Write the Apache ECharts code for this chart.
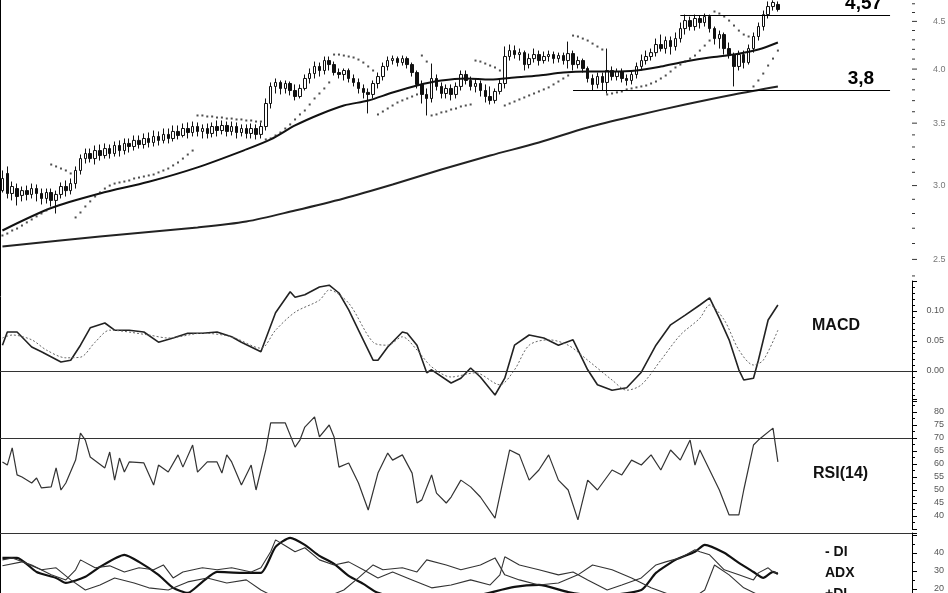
<!DOCTYPE html>
<html><head><meta charset="utf-8">
<script src="https://cdn.jsdelivr.net/npm/echarts@6/dist/echarts.min.js"></script>
<style>html,body{margin:0;padding:0;background:#fff}#c{width:948px;height:593px}</style>
</head><body><div id="c"></div>
<script>
// ---------------- DATA ----------------
const nCats = 187;
const categories = Array.from({length: nCats}, (_, i) => 'd' + (i + 1));

// candles: [open, close, low, high]
const candles = [
[2.963,3.053,2.949,3.114],[3.091,2.942,2.906,3.145],[2.942,2.993,2.892,3.030],[2.978,2.920,2.856,3.015],
[2.928,2.963,2.885,2.993],[2.963,2.935,2.892,3.000],[2.935,2.978,2.906,3.015],[2.978,2.942,2.885,3.008],
[2.942,2.906,2.863,2.978],[2.906,2.949,2.870,2.978],[2.949,2.892,2.849,2.978],[2.892,2.935,2.800,2.963],
[2.935,2.993,2.906,3.023],[2.993,2.963,2.920,3.038],[2.963,3.015,2.935,3.053],[3.015,3.114,2.978,3.145],
[3.114,3.207,3.083,3.239],[3.207,3.247,3.168,3.287],[3.247,3.207,3.176,3.287],[3.207,3.271,3.160,3.312],
[3.271,3.231,3.191,3.320],[3.231,3.287,3.207,3.329],[3.287,3.247,3.207,3.320],[3.247,3.312,3.223,3.345],
[3.312,3.271,3.223,3.354],[3.271,3.329,3.239,3.370],[3.329,3.304,3.255,3.370],[3.304,3.354,3.271,3.395],
[3.354,3.320,3.287,3.395],[3.320,3.370,3.287,3.412],[3.370,3.337,3.296,3.420],[3.337,3.387,3.304,3.437],
[3.387,3.354,3.312,3.429],[3.354,3.404,3.329,3.454],[3.404,3.370,3.329,3.454],[3.370,3.429,3.345,3.480],
[3.429,3.395,3.362,3.480],[3.395,3.454,3.379,3.497],[3.454,3.420,3.370,3.506],[3.420,3.471,3.387,3.514],
[3.471,3.429,3.387,3.506],[3.429,3.454,3.370,3.489],[3.454,3.412,3.370,3.497],[3.412,3.471,3.379,3.506],
[3.471,3.437,3.387,3.523],[3.437,3.480,3.404,3.523],[3.480,3.429,3.387,3.514],[3.429,3.471,3.395,3.514],
[3.471,3.420,3.370,3.506],[3.420,3.454,3.387,3.489],[3.454,3.412,3.370,3.489],[3.412,3.454,3.370,3.497],
[3.454,3.404,3.362,3.489],[3.404,3.471,3.370,3.506],[3.471,3.674,3.437,3.720],[3.674,3.832,3.629,3.870],
[3.832,3.870,3.766,3.908],[3.870,3.813,3.757,3.889],[3.813,3.860,3.766,3.889],[3.860,3.794,3.748,3.879],
[3.794,3.738,3.702,3.851],[3.738,3.813,3.720,3.851],[3.813,3.908,3.794,3.947],[3.908,3.956,3.860,4.006],
[3.956,4.026,3.908,4.075],[4.026,3.986,3.927,4.065],[3.986,4.085,3.947,4.126],[4.085,4.045,3.986,4.126],
[4.045,3.966,3.937,4.075],[3.966,3.947,3.908,4.006],[3.947,3.986,3.889,4.006],[3.986,3.908,3.870,4.006],
[3.908,3.870,3.832,3.947],[3.870,3.813,3.766,3.908],[3.813,3.776,3.720,3.851],[3.776,3.757,3.585,3.813],
[3.757,3.860,3.720,3.889],[3.860,3.927,3.813,3.966],[3.927,4.026,3.889,4.065],[4.026,4.085,3.986,4.126],
[4.085,4.105,4.045,4.136],[4.105,4.065,4.026,4.126],[4.065,4.105,4.035,4.136],[4.105,4.045,4.006,4.126],
[4.045,3.966,3.927,4.065],[3.966,3.851,3.813,3.986],[3.851,3.757,3.674,3.889],[3.757,3.720,3.567,3.813],
[3.720,3.908,3.683,4.055],[3.908,3.832,3.794,3.947],[3.832,3.766,3.720,3.870],[3.766,3.813,3.720,3.851],
[3.813,3.757,3.702,3.851],[3.757,3.832,3.720,3.870],[3.832,3.947,3.794,3.986],[3.947,3.889,3.851,3.986],
[3.889,3.832,3.794,3.927],[3.832,3.860,3.776,3.908],[3.860,3.794,3.738,3.889],[3.794,3.738,3.683,3.851],
[3.738,3.702,3.665,3.832],[3.702,3.785,3.674,3.813],[3.785,3.860,3.757,3.908],[3.860,4.126,3.813,4.230],
[4.126,4.187,4.085,4.250],[4.187,4.146,4.105,4.240],[4.146,4.166,4.085,4.208],[4.166,4.045,3.986,4.187],
[4.045,4.105,4.006,4.156],[4.105,4.146,4.065,4.208],[4.146,4.085,4.035,4.187],[4.085,4.126,4.055,4.177],
[4.126,4.146,4.075,4.187],[4.146,4.105,4.055,4.177],[4.105,4.136,4.065,4.166],[4.136,4.085,4.045,4.166],
[4.085,4.156,4.006,4.281],[4.156,4.045,3.986,4.187],[4.045,4.085,4.006,4.126],[4.085,4.006,3.966,4.105],
[4.006,3.908,3.870,4.026],[3.908,3.851,3.794,3.947],[3.851,3.927,3.813,3.966],[3.927,3.870,3.794,3.966],
[3.870,3.986,3.766,4.208],[3.986,3.927,3.889,4.026],[3.927,3.976,3.889,4.006],[3.976,3.908,3.870,4.006],
[3.908,3.889,3.841,3.947],[3.889,3.947,3.851,3.986],[3.947,4.026,3.908,4.065],[4.026,4.085,3.986,4.146],
[4.085,4.126,4.045,4.187],[4.126,4.166,4.085,4.208],[4.166,4.250,4.126,4.313],[4.250,4.208,4.177,4.356],
[4.208,4.292,4.156,4.335],[4.292,4.229,4.146,4.335],[4.229,4.313,4.187,4.378],[4.313,4.421,4.271,4.487],
[4.421,4.509,4.356,4.576],[4.509,4.443,4.399,4.554],[4.443,4.532,4.399,4.576],[4.532,4.487,4.421,4.565],
[4.487,4.554,4.443,4.588],[4.554,4.421,4.378,4.576],[4.421,4.313,4.250,4.443],[4.313,4.356,4.208,4.399],
[4.356,4.208,4.146,4.378],[4.208,4.146,4.105,4.271],[4.146,4.026,3.832,4.166],[4.026,4.146,3.986,4.187],
[4.146,4.065,4.006,4.187],[4.065,4.208,4.045,4.250],[4.208,4.335,4.166,4.378],[4.335,4.443,4.292,4.487],
[4.443,4.576,4.399,4.622],[4.576,4.668,4.532,4.727],[4.668,4.715,4.622,4.740],[4.692,4.634,4.610,4.727]
];

// parabolic SAR, one value per candle
const sar = [
2.652,2.665,2.685,2.698,2.718,2.739,2.759,2.780,2.800,2.821,
3.160,3.145,3.129,3.114,3.091,
2.773,2.807,2.849,2.885,2.920,2.949,2.978,3.000,
3.015,3.023,3.030,3.038,3.053,3.060,3.068,3.076,3.083,3.099,3.114,3.129,3.153,3.176,3.207,3.239,3.271,
3.567,3.567,3.558,3.558,3.549,3.549,3.540,3.540,3.532,3.532,3.523,3.523,3.514,3.514,
3.362,3.370,3.395,3.420,3.454,3.489,3.532,3.576,3.611,3.665,3.720,3.766,3.813,3.870,
4.146,4.146,4.136,4.126,4.116,4.095,4.065,4.026,3.986,
3.576,3.602,3.629,3.656,3.683,3.702,3.720,3.738,3.757,
4.136,4.075,
3.567,3.576,3.594,3.602,3.620,3.629,3.647,3.656,3.665,
4.085,4.075,4.055,4.035,4.016,3.986,
3.656,3.674,3.692,3.711,3.729,3.748,3.766,3.785,3.804,3.823,3.851,3.879,3.908,3.937,
4.345,4.335,4.313,4.292,4.260,4.229,4.198,
3.757,3.766,3.776,3.785,3.804,3.813,3.823,3.832,3.841,3.860,3.879,3.908,3.937,3.976,4.016,4.045,4.075,4.105,4.136,4.187,4.239,4.292,
4.611,4.588,4.554,4.509,4.454,4.399,4.356,4.335,
3.832,3.889,3.956,4.035,4.105,4.187
];

// moving averages [candle index, price]
const maShort = [[0,2.685],[10,2.838],[20,2.942],[30,3.028],[40,3.138],[50,3.280],[55,3.362],[60,3.480],[65,3.576],[70,3.656],[75,3.701],[80,3.775],[85,3.841],[90,3.888],[95,3.908],[100,3.898],[105,3.917],[110,3.937],[115,3.966],[120,3.976],[125,3.976],[130,3.986],[135,4.025],[140,4.075],[145,4.116],[150,4.146],[155,4.198],[159,4.271]];
const maLong = [[0,2.581],[20,2.645],[40,2.705],[50,2.745],[60,2.821],[70,2.906],[80,3.008],[90,3.121],[100,3.231],[110,3.337],[120,3.463],[130,3.567],[140,3.665],[150,3.757],[159,3.832]];

// support / resistance levels
const levelHigh = {label: '4,57', value: 4.57, from: 139, to: 182};
const levelLow = {label: '3,8', value: 3.8, from: 117, to: 182};

// MACD and signal [index, value]
const macd = [[0,0.043],[1,0.065],[3,0.065],[6,0.040],[8,0.032],[12,0.015],[14,0.018],[16,0.043],[18,0.072],[21,0.080],[23,0.068],[26,0.068],[29,0.065],[32,0.048],[35,0.055],[38,0.063],[41,0.063],[44,0.065],[47,0.057],[49,0.048],[53,0.032],[56,0.097],[59,0.132],[60,0.123],[62,0.127],[65,0.140],[67,0.143],[69,0.130],[71,0.102],[73,0.068],[76,0.018],[77,0.018],[79,0.040],[82,0.065],[83,0.063],[85,0.043],[87,-0.003],[88,0.002],[92,-0.020],[94,-0.012],[96,0.005],[98,-0.010],[101,-0.040],[103,-0.012],[105,0.043],[108,0.060],[111,0.055],[114,0.043],[117,0.052],[120,0.002],[122,-0.023],[125,-0.032],[128,-0.028],[131,-0.002],[134,0.043],[137,0.077],[140,0.093],[143,0.110],[145,0.122],[147,0.088],[149,0.052],[151,0.002],[152,-0.015],[154,-0.012],[155,0.018],[157,0.085],[159,0.110]];
const signal = [[0,0.055],[2,0.060],[6,0.052],[9,0.035],[13,0.022],[16,0.023],[19,0.048],[22,0.068],[30,0.060],[34,0.055],[41,0.063],[47,0.057],[53,0.038],[56,0.068],[60,0.098],[65,0.118],[67,0.135],[71,0.113],[76,0.048],[79,0.043],[82,0.057],[85,0.035],[88,0.007],[92,-0.010],[97,-0.003],[102,-0.023],[105,0.002],[108,0.043],[112,0.052],[116,0.043],[120,0.018],[125,-0.015],[128,-0.032],[131,-0.023],[135,0.018],[139,0.060],[143,0.088],[145,0.110],[148,0.085],[151,0.035],[154,0.010],[156,0.018],[159,0.068]];

// RSI(14) [index, value]
const rsi = [[0,60.8],[1,59.6],[2,66.2],[3,55.8],[4,55.0],[6,52.7],[7,54.6],[8,50.8],[10,51.2],[11,58.5],[12,50.0],[13,52.7],[15,61.5],[16,71.9],[17,69.2],[18,62.7],[21,58.5],[22,64.6],[23,53.8],[24,62.3],[25,56.9],[26,60.8],[29,60.4],[31,51.9],[32,59.6],[34,56.9],[36,63.5],[37,58.8],[39,67.3],[40,56.9],[42,60.8],[44,60.8],[45,56.5],[46,63.5],[47,60.8],[49,51.9],[51,59.6],[52,50.0],[54,65.4],[55,75.8],[58,75.8],[60,66.5],[61,69.2],[62,74.2],[64,78.1],[65,70.4],[67,75.0],[68,70.4],[69,58.8],[71,60.4],[73,52.7],[75,42.3],[77,56.5],[79,64.2],[80,61.5],[82,63.5],[84,56.5],[85,45.0],[86,46.2],[88,55.8],[89,48.8],[91,45.0],[92,47.3],[94,53.8],[96,51.2],[98,47.3],[101,39.2],[104,65.4],[106,63.5],[108,53.8],[110,57.7],[112,63.5],[114,53.8],[116,50.0],[118,38.5],[120,53.8],[122,50.0],[125,57.7],[127,55.8],[129,61.5],[131,59.6],[133,63.5],[135,57.7],[137,65.4],[139,61.5],[141,69.2],[142,59.6],[143,65.4],[145,57.7],[147,50.0],[149,40.4],[151,40.4],[152,50.0],[154,67.3],[155,69.2],[158,73.8],[159,60.8]];

// DMI [index, value]
const adx = [[0,37.2],[3,37.2],[7,29.4],[11,26.1],[13,23.3],[17,26.7],[20,32.2],[25,38.9],[28,35.0],[32,27.8],[35,20.6],[38,17.8],[41,23.9],[44,29.4],[49,28.9],[53,28.9],[56,43.3],[59,48.3],[62,44.4],[65,38.3],[68,33.9],[71,27.2],[74,22.8],[77,17.8],[82,15.0],[92,13.9],[98,16.7],[105,21.1],[110,22.2],[116,18.3],[122,16.1],[131,19.4],[134,28.9],[138,36.1],[142,40.6],[144,44.4],[148,40.0],[151,34.4],[154,29.4],[156,26.1],[158,29.4],[159,28.3]];
const plusDI = [[0,36.1],[2,37.2],[6,33.3],[10,27.8],[13,25.0],[15,30.6],[16,36.1],[19,31.7],[22,32.8],[25,29.4],[28,31.7],[31,30.6],[33,33.3],[35,26.1],[37,29.4],[41,31.7],[44,30.6],[47,31.7],[51,29.4],[53,31.7],[55,40.6],[56,47.2],[58,43.9],[60,40.6],[62,42.8],[65,36.1],[68,33.3],[71,35.0],[74,30.6],[77,26.1],[80,29.4],[84,25.0],[88,20.6],[92,22.2],[96,25.0],[100,22.2],[102,27.8],[103,37.8],[106,33.3],[110,30.6],[114,27.8],[117,29.4],[120,25.0],[124,19.4],[127,22.2],[131,26.1],[134,33.3],[136,35.0],[139,37.2],[142,41.7],[143,40.6],[145,38.9],[148,30.6],[151,27.8],[154,25.0],[155,28.9],[157,31.7],[158,29.4],[159,28.9]];
const minusDI = [[0,32.8],[4,35.0],[8,30.6],[11,31.7],[14,25.0],[17,19.4],[20,22.2],[23,26.1],[27,23.3],[30,20.6],[34,19.4],[38,23.9],[42,26.1],[46,23.3],[50,25.0],[53,19.4],[57,13.9],[65,13.9],[70,19.4],[73,26.1],[76,33.3],[78,30.6],[82,31.7],[85,29.4],[87,36.1],[91,33.3],[94,30.6],[98,33.3],[101,37.2],[103,27.8],[106,25.0],[110,22.2],[114,23.3],[118,27.8],[121,33.3],[125,30.6],[129,26.1],[133,20.6],[137,16.7],[141,13.9],[144,19.4],[146,33.3],[149,27.8],[152,20.6],[155,16.7],[159,15.0]];

// axis tick labels / tick values
const priceLabels = ['2.5','3.0','3.5','4.0','4.5'];
const priceMinorTicks = [2.4,2.6,2.7,2.8,2.9,3.1,3.2,3.3,3.4,3.6,3.7,3.8,3.9,4.1,4.2,4.3,4.4,4.6,4.7];
const macdLabels = ['0.00','0.05','0.10'];
const rsiLabels = [40,45,50,55,60,65,70,75,80];
const dmiLabels = [20,30,40];

// ---------------- CHART ----------------
const chart = echarts.init(document.getElementById('c'), null, {renderer: 'canvas'});
const AX = '#000';
const FONT = 'Liberation Sans, Arial, sans-serif';
const LBL = {color: '#555', fontSize: 9, fontFamily: FONT};
const G = {left: 0, right: 36, containLabel: false, outerBoundsMode: 'none'};

function catAxis(gi) {
  return {type: 'category', gridIndex: gi, data: categories, boundaryGap: true, show: false};
}
function valAxis(gi, o) {
  return Object.assign({
    type: 'value', gridIndex: gi, position: 'right', scale: false,
    axisLine: {show: true, lineStyle: {color: AX, width: 1}},
    axisTick: {show: true, inside: false, length: 5, lineStyle: {color: AX}},
    splitLine: {show: false}, minorSplitLine: {show: false}
  }, o);
}
function minor(n) { return {show: true, splitNumber: n, length: 3, lineStyle: {color: AX}}; }
const levelLabel = {show: true, position: 'insideEndTop', formatter: '{b}', color: '#000',
  fontSize: 19, fontWeight: 'bold', fontFamily: FONT};

const option = {
  animation: false,
  backgroundColor: '#fff',
  grid: [
    Object.assign({top: 0, height: 280}, G),
    Object.assign({top: 281, height: 120}, G),
    Object.assign({top: 399, height: 130}, G),
    Object.assign({top: 533, height: 92}, G),
    Object.assign({top: 0, bottom: 0}, G)
  ],
  xAxis: [catAxis(0), catAxis(1), catAxis(2), catAxis(3),
    {type: 'value', gridIndex: 0, min: 0, max: 1, show: false},
    {type: 'value', gridIndex: 4, min: 0, max: 1, show: false}],
  yAxis: [
    {type: 'log', gridIndex: 0, position: 'right', min: 2.376, max: 4.744, logBase: 10,
      axisLine: {show: true, lineStyle: {color: AX}}, axisTick: {show: false},
      axisLabel: {show: false}, splitLine: {show: false}},
    valAxis(1, {min: -0.05, max: 0.15, interval: 0.05, minorTick: minor(5),
      axisLabel: Object.assign({margin: 32, align: 'right', formatter: v => {
        const s = v.toFixed(2); return macdLabels.indexOf(s) >= 0 ? s : ''; }}, LBL)}),
    valAxis(2, {min: 35, max: 85, interval: 5, minorTick: minor(2),
      axisLabel: Object.assign({margin: 32, align: 'right', formatter: v => rsiLabels.indexOf(Math.round(v)) >= 0 ? String(Math.round(v)) : ''}, LBL)}),
    valAxis(3, {min: 0, max: 51, interval: 10, minorTick: minor(2),
      axisLabel: Object.assign({margin: 32, align: 'right', formatter: v => dmiLabels.indexOf(Math.round(v)) >= 0 ? String(Math.round(v)) : ''}, LBL)}),
    {type: 'value', gridIndex: 4, position: 'right', min: 0, max: 1,
      axisLine: {show: true, lineStyle: {color: AX}}, axisTick: {show: false}, axisLabel: {show: false}, splitLine: {show: false}}
  ],
  series: [
    {
      type: 'candlestick', xAxisIndex: 0, yAxisIndex: 0, data: candles, barWidth: 3,
      itemStyle: {color: '#fff', color0: '#111', borderColor: '#111', borderColor0: '#111', borderWidth: 1},
      markLine: {
        silent: true, symbol: ['none', 'none'], animation: false,
        lineStyle: {color: '#000', width: 1, type: 'solid'},
        label: Object.assign({distance: [8, 2]}, levelLabel),
        data: [
          [{name: levelHigh.label, coord: [levelHigh.from, levelHigh.value]}, {coord: [levelHigh.to, levelHigh.value]}],
          [{name: levelLow.label, coord: [levelLow.from, levelLow.value], label: Object.assign({distance: [16, 2]}, levelLabel)},
           {coord: [levelLow.to, levelLow.value]}]
        ]
      }
    },
    {type: 'line', xAxisIndex: 0, yAxisIndex: 0, data: maShort, symbol: 'none', smooth: 0.3,
      lineStyle: {color: '#111', width: 2}, z: 3},
    {type: 'line', xAxisIndex: 0, yAxisIndex: 0, data: maLong, symbol: 'none', smooth: 0.3,
      lineStyle: {color: '#222', width: 2}, z: 3},
    {type: 'scatter', xAxisIndex: 0, yAxisIndex: 0, data: sar, symbol: 'rect', symbolSize: 2,
      itemStyle: {color: '#222'}, z: 4},
    {
      type: 'scatter', xAxisIndex: 4, yAxisIndex: 0, clip: false, silent: true, symbol: 'rect',
      itemStyle: {color: '#000'},
      data: priceLabels.map(v => ({name: v, value: [1, parseFloat(v)], symbolSize: [5, 1], symbolOffset: [2.5, 0],
          label: Object.assign({show: true, position: 'right', distance: 16, formatter: '{b}'}, LBL)}))
        .concat(priceMinorTicks.map(v => ({value: [1, v], symbolSize: [3, 1], symbolOffset: [1.5, 0]})))
    },
    {type: 'line', xAxisIndex: 1, yAxisIndex: 1, data: macd, symbol: 'none',
      lineStyle: {color: '#222', width: 1.6},
      markLine: {silent: true, symbol: ['none', 'none'], label: {show: false},
        lineStyle: {color: '#333', width: 1, type: 'solid'}, data: [{yAxis: 0}]}},
    {type: 'line', xAxisIndex: 1, yAxisIndex: 1, data: signal, symbol: 'none', smooth: 0.3,
      lineStyle: {color: '#666', width: 1, type: [2, 2]}},
    {type: 'line', xAxisIndex: 2, yAxisIndex: 2, data: rsi, symbol: 'none',
      lineStyle: {color: '#333', width: 1.2},
      markLine: {silent: true, symbol: ['none', 'none'], label: {show: false},
        lineStyle: {color: '#333', width: 1, type: 'solid'}, data: [{yAxis: 70}]}},
    {type: 'line', xAxisIndex: 3, yAxisIndex: 3, data: adx, symbol: 'none', smooth: 0.2,
      lineStyle: {color: '#111', width: 2.2},
      markLine: {silent: true, symbol: ['none', 'none'], label: {show: false},
        lineStyle: {color: '#333', width: 1, type: 'solid'}, data: [{yAxis: 51}]}},
    {type: 'line', xAxisIndex: 3, yAxisIndex: 3, data: plusDI, symbol: 'none',
      lineStyle: {color: '#333', width: 1.1}},
    {type: 'line', xAxisIndex: 3, yAxisIndex: 3, data: minusDI, symbol: 'none',
      lineStyle: {color: '#333', width: 1.1}}
  ],
  graphic: [
    {type: 'text', left: 812, top: 318, style: {text: 'MACD', font: 'bold 16px ' + FONT, fill: '#111'}},
    {type: 'text', left: 813, top: 466, style: {text: 'RSI(14)', font: 'bold 16px ' + FONT, fill: '#111'}},
    {type: 'text', left: 825, top: 545, style: {text: '- DI', font: 'bold 14px ' + FONT, fill: '#111'}},
    {type: 'text', left: 825, top: 566, style: {text: 'ADX', font: 'bold 14px ' + FONT, fill: '#111'}},
    {type: 'text', left: 825, top: 587, style: {text: '+DI', font: 'bold 14px ' + FONT, fill: '#111'}}
  ]
};
chart.setOption(option);
</script>
</body></html>
